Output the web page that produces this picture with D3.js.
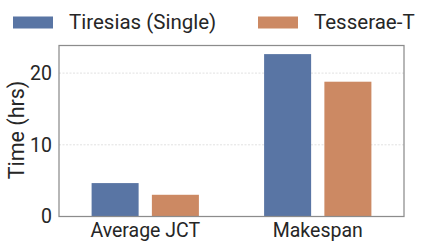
<!DOCTYPE html>
<html>
<head>
<meta charset="utf-8">
<script src="https://cdn.jsdelivr.net/npm/d3@7"></script>
<style>
  body { margin: 0; background: #fff; }
  svg text { font-family: Roboto, "Liberation Sans", sans-serif; fill: #262626; }
</style>
</head>
<body>
<svg width="429" height="247"></svg>
<script>
const categories = ["Average JCT", "Makespan"];
const seriesNames = ["Tiresias (Single)", "Tesserae-T"];
const tiresias = [4.66, 22.65];
const tesserae = [3.03, 18.8];
const yTicks = [0, 10, 20];
const colors = ["#5975a4", "#cc8963"];

const svg = d3.select("svg");
const margin = {top: 45.5, right: 25, bottom: 30.5, left: 59};
const width = 429 - margin.left - margin.right;
const height = 247 - margin.top - margin.bottom;

const g = svg.append("g")
  .attr("transform", `translate(${margin.left},${margin.top})`);

const rows = categories.map((c, i) => ({
  category: c,
  values: [tiresias[i], tesserae[i]]
}));

const x0 = d3.scaleBand()
  .domain(categories)
  .range([0, width])
  .paddingInner(0.378)
  .paddingOuter(0.189);

const x1 = d3.scaleBand()
  .domain(d3.range(seriesNames.length))
  .range([0, x0.bandwidth()])
  .paddingInner(0.22);

const y = d3.scaleLinear()
  .domain([0, 23.85])
  .range([height, 0]);

// grid
g.selectAll("line.grid")
  .data(yTicks.filter(t => t > 0))
  .enter()
  .append("line")
  .attr("class", "grid")
  .attr("x1", 0)
  .attr("x2", width)
  .attr("y1", d => y(d))
  .attr("y2", d => y(d))
  .attr("stroke", "#d9d9d9")
  .attr("stroke-width", 0.8)
  .attr("stroke-dasharray", "2,1.5");

// bars
const groups = g.selectAll("g.group")
  .data(rows)
  .enter()
  .append("g")
  .attr("class", "group")
  .attr("transform", d => `translate(${x0(d.category)},0)`);

groups.selectAll("rect")
  .data(d => d.values.map((v, i) => ({i: i, v: v})))
  .enter()
  .append("rect")
  .attr("x", d => x1(d.i))
  .attr("width", x1.bandwidth())
  .attr("y", d => y(d.v))
  .attr("height", d => height - y(d.v))
  .attr("fill", d => colors[d.i]);

// frame
g.append("rect")
  .attr("width", width)
  .attr("height", height)
  .attr("fill", "none")
  .attr("stroke", "#8c8c8c")
  .attr("stroke-width", 1.25);

// y axis labels
g.selectAll("text.ytick")
  .data(yTicks)
  .enter()
  .append("text")
  .attr("class", "ytick")
  .attr("x", -7)
  .attr("y", d => y(d))
  .attr("dy", "0.35em")
  .attr("text-anchor", "end")
  .style("font-size", "19.5px")
  .text(d => d);

// x axis labels
g.selectAll("text.xtick")
  .data(categories)
  .enter()
  .append("text")
  .attr("class", "xtick")
  .attr("x", d => x0(d) + x0.bandwidth() / 2)
  .attr("y", height + 20.5)
  .attr("text-anchor", "middle")
  .style("font-size", "19.5px")
  .text(d => d);

// y title
svg.append("text")
  .attr("transform", "translate(23.5,130) rotate(-90)")
  .attr("text-anchor", "middle")
  .style("font-size", "21.5px")
  .text("Time (hrs)");

// legend
const legendX = [13, 258];
const legend = svg.selectAll("g.legend")
  .data(seriesNames)
  .enter()
  .append("g")
  .attr("class", "legend")
  .attr("transform", (d, i) => `translate(${legendX[i]},16.5)`);

legend.append("rect")
  .attr("width", 40)
  .attr("height", 12)
  .attr("fill", (d, i) => colors[i]);

legend.append("text")
  .attr("x", 56)
  .attr("y", 12.5)
  .style("font-size", "20.5px")
  .text(d => d);
</script>
</body>
</html>
